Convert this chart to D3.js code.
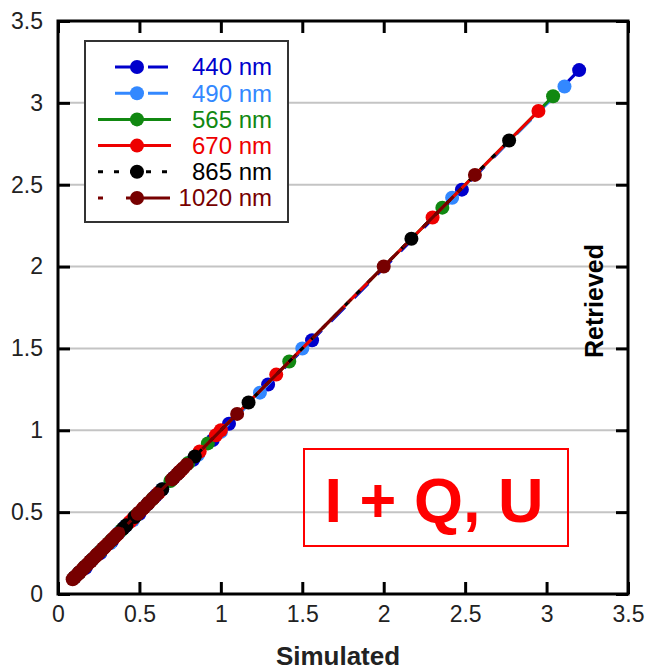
<!DOCTYPE html>
<html>
<head>
<meta charset="utf-8">
<script src="https://cdn.jsdelivr.net/npm/d3@7"></script>
<style>
  body { margin: 0; background: #fff; }
  svg { display: block; font-family: "Liberation Sans", Arial, sans-serif; }
</style>
</head>
<body>
<div id="chart"></div>
<script>
// wavelengths shown in the legend
const bands = ["440 nm", "490 nm", "565 nm", "670 nm", "865 nm", "1020 nm"];
const bandColors = ["#0000cc", "#3388ff", "#118811", "#ee0000", "#000000", "#770000"];
const bandDash = ["20,13", "20,13", null, null, "5,11", "5,23,44,6"];

// [simulated, retrieved] per wavelength
const data440 = [[0.10,0.10],[0.13,0.13],[0.17,0.16],[0.21,0.21],[0.26,0.25],[0.33,0.32],[0.41,0.41],[0.50,0.49],[0.60,0.60],[0.71,0.71],[0.83,0.82],[0.95,0.94],[1.05,1.04],[1.29,1.28],[1.56,1.55],[2.48,2.47],[3.20,3.20]];
const data490 = [[0.10,0.10],[0.13,0.13],[0.17,0.17],[0.21,0.21],[0.26,0.26],[0.32,0.31],[0.38,0.38],[0.46,0.45],[0.55,0.55],[0.64,0.64],[0.74,0.74],[0.86,0.85],[1.00,0.99],[1.24,1.23],[1.50,1.50],[2.42,2.42],[3.11,3.10]];
const data565 = [[0.10,0.10],[0.13,0.13],[0.17,0.17],[0.21,0.21],[0.26,0.26],[0.32,0.32],[0.39,0.39],[0.48,0.48],[0.58,0.58],[0.69,0.69],[0.80,0.80],[0.92,0.92],[1.42,1.42],[2.36,2.36],[3.04,3.04]];
const data670 = [[0.10,0.10],[0.13,0.13],[0.16,0.16],[0.20,0.20],[0.24,0.24],[0.29,0.29],[0.35,0.35],[0.44,0.44],[0.46,0.46],[0.52,0.52],[0.62,0.62],[0.75,0.75],[0.87,0.87],[0.97,0.97],[1.00,1.00],[1.34,1.34],[2.30,2.30],[2.95,2.95]];
const data865 = [[0.10,0.10],[0.13,0.13],[0.16,0.16],[0.20,0.20],[0.24,0.24],[0.28,0.28],[0.33,0.33],[0.40,0.40],[0.42,0.42],[0.47,0.47],[0.55,0.55],[0.64,0.64],[0.74,0.74],[0.84,0.84],[1.17,1.17],[2.17,2.17],[2.77,2.77]];
const data1020 = [[0.09,0.09],[0.10,0.10],[0.11,0.11],[0.12,0.12],[0.13,0.13],[0.14,0.14],[0.15,0.15],[0.16,0.16],[0.17,0.17],[0.18,0.18],[0.19,0.19],[0.20,0.20],[0.21,0.21],[0.22,0.22],[0.23,0.23],[0.24,0.24],[0.25,0.25],[0.27,0.27],[0.28,0.28],[0.30,0.30],[0.31,0.31],[0.33,0.33],[0.34,0.34],[0.36,0.36],[0.37,0.37],[0.49,0.49],[0.50,0.50],[0.52,0.52],[0.53,0.53],[0.55,0.55],[0.56,0.56],[0.58,0.58],[0.59,0.59],[0.61,0.61],[0.70,0.70],[0.71,0.71],[0.73,0.73],[0.74,0.74],[0.76,0.76],[0.77,0.77],[0.79,0.79],[1.10,1.10],[2.00,2.00],[2.56,2.56]];

const allSeries = [data440, data490, data565, data670, data865, data1020];
const tickVals = [0, 0.5, 1, 1.5, 2, 2.5, 3, 3.5];
const gridVals = [0.5, 1, 1.5, 2, 2.5, 3];

const W = 646, H = 672;
const margin = { top: 21, right: 18, bottom: 78, left: 58 };
const width = W - margin.left - margin.right;
const height = H - margin.top - margin.bottom;

const svg = d3.select("#chart")
    .append("svg")
    .attr("width", W)
    .attr("height", H);

const g = svg.append("g")
    .attr("transform", `translate(${margin.left},${margin.top})`);

const x = d3.scaleLinear().domain([0, 3.5]).range([0, width]);
const y = d3.scaleLinear().domain([0, 3.5]).range([height, 0]);

// grey horizontal gridlines
g.append("g")
    .selectAll("line")
    .data(gridVals)
    .enter()
    .append("line")
    .attr("x1", 0)
    .attr("x2", width)
    .attr("y1", d => y(d))
    .attr("y2", d => y(d))
    .attr("stroke", "#c4c4c4")
    .attr("stroke-width", 2);

// axes with inward ticks on all four sides
const fmt = d => String(d);
function styleAxis(sel) {
    sel.select(".domain").remove();
    sel.selectAll(".tick line").attr("stroke", "#000").attr("stroke-width", 3);
    sel.selectAll(".tick text")
        .attr("fill", "#222")
        .style("font-size", "23px");
}

g.append("g")
    .call(d3.axisLeft(y).tickValues(tickVals).tickSize(-12).tickPadding(15).tickFormat(fmt))
    .call(styleAxis);

g.append("g")
    .attr("transform", `translate(0,${height})`)
    .call(d3.axisBottom(x).tickValues(tickVals).tickSize(-12).tickPadding(12).tickFormat(fmt))
    .call(styleAxis);

g.append("g")
    .call(d3.axisTop(x).tickValues(tickVals).tickSize(-12).tickFormat(""))
    .call(styleAxis);

g.append("g")
    .attr("transform", `translate(${width},0)`)
    .call(d3.axisRight(y).tickValues(tickVals).tickSize(-12).tickFormat(""))
    .call(styleAxis);

// data lines and markers
const line = d3.line()
    .x(d => x(d[0]))
    .y(d => y(d[1]));

allSeries.forEach((series, i) => {
    g.append("path")
        .datum(series)
        .attr("d", line)
        .attr("fill", "none")
        .attr("stroke", bandColors[i])
        .attr("stroke-width", 3)
        .attr("stroke-dasharray", bandDash[i]);

    g.append("g")
        .selectAll("circle")
        .data(series)
        .enter()
        .append("circle")
        .attr("cx", d => x(d[0]))
        .attr("cy", d => y(d[1]))
        .attr("r", 7)
        .attr("fill", bandColors[i]);
});

// frame
g.append("rect")
    .attr("width", width)
    .attr("height", height)
    .attr("fill", "none")
    .attr("stroke", "#000")
    .attr("stroke-width", 3);

// axis titles
svg.append("text")
    .attr("x", 338)
    .attr("y", 665)
    .attr("text-anchor", "middle")
    .style("font-size", "26px")
    .style("font-weight", "bold")
    .attr("fill", "#222")
    .text("Simulated");

svg.append("text")
    .attr("transform", "translate(603,301) rotate(-90)")
    .attr("text-anchor", "middle")
    .style("font-size", "25px")
    .style("font-weight", "bold")
    .attr("fill", "#000")
    .text("Retrieved");

// legend
const legend = svg.append("g");
legend.append("rect")
    .attr("x", 85)
    .attr("y", 41)
    .attr("width", 203)
    .attr("height", 181)
    .attr("fill", "#fff")
    .attr("stroke", "#333")
    .attr("stroke-width", 2);

bands.forEach((band, i) => {
    const ly = 67 + i * 26.2;
    legend.append("line")
        .attr("x1", i < 2 ? 115 : 98)
        .attr("x2", 171)
        .attr("y1", ly)
        .attr("y2", ly)
        .attr("stroke", bandColors[i])
        .attr("stroke-width", 3)
        .attr("stroke-dasharray", bandDash[i]);

    legend.append("circle")
        .attr("cx", 137)
        .attr("cy", ly)
        .attr("r", 7)
        .attr("fill", bandColors[i]);

    legend.append("text")
        .attr("x", 272)
        .attr("y", ly)
        .attr("dy", "0.35em")
        .attr("text-anchor", "end")
        .style("font-size", "24px")
        .attr("fill", bandColors[i])
        .text(band);
});

// annotation box
svg.append("rect")
    .attr("x", 304)
    .attr("y", 449)
    .attr("width", 264)
    .attr("height", 97)
    .attr("fill", "none")
    .attr("stroke", "#ff0000")
    .attr("stroke-width", 2);

svg.append("text")
    .attr("x", 434)
    .attr("y", 522)
    .attr("text-anchor", "middle")
    .style("font-size", "63px")
    .style("font-weight", "bold")
    .attr("fill", "#ff0000")
    .text("I + Q, U");
</script>
</body>
</html>
